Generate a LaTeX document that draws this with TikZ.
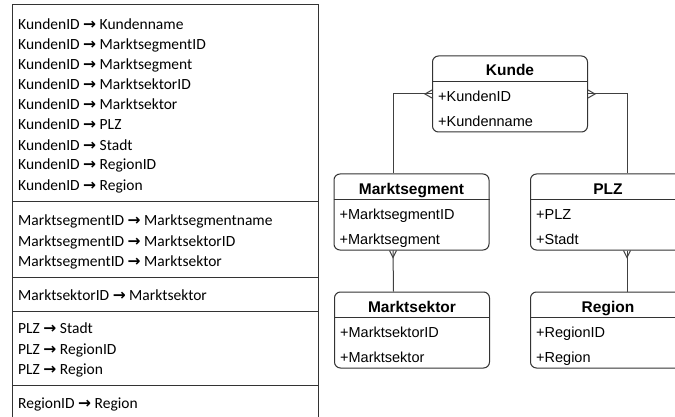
\documentclass[tikz,border=0pt]{standalone}
\usepackage{fontspec}
\setmainfont{Carlito}
\newfontfamily\arialf{Liberation Sans}
\newfontfamily\arrowf{DejaVu Sans}
\newcommand\fdarr{{\arrowf\bfseries →}}
\usetikzlibrary{calc}
\begin{document}
\begin{tikzpicture}[x=1pt,y=-1pt,
  tline/.style={draw=black!80, line width=1pt},
  fdtext/.style={anchor=base west, inner sep=0pt, font=\fontsize{15.5}{18}\selectfont},
  entbox/.style={draw=black!80, line width=1pt, rounded corners=6pt, minimum width=155pt, minimum height=76pt, inner sep=0pt},
  enttitle/.style={font=\arialf\bfseries\fontsize{15.5}{18}\selectfont, anchor=base, inner sep=0pt},
  entattr/.style={font=\arialf\fontsize{14.5}{17}\selectfont, anchor=base west, inner sep=0pt},
  conn/.style={draw=black!75, line width=1pt},
]
\path[use as bounding box, fill=white] (0,0) rectangle (675,417);

% ---- left table of functional dependencies ----
\draw[tline] (12,5) -- (318,5) -- (318,430) (12,5) -- (12,430);
\draw[tline] (12,201) -- (318,201);
\draw[tline] (12,277) -- (318,277);
\draw[tline] (12,311) -- (318,311);
\draw[tline] (12,385.5) -- (318,385.5);

\node[fdtext] (f1) at (18,30) {KundenID \fdarr{} Kundenname};
\node[fdtext] (f2) at (18,50) {KundenID \fdarr{} MarktsegmentID};
\node[fdtext] (f3) at (18,70) {KundenID \fdarr{} Marktsegment};
\node[fdtext] (f4) at (18,90) {KundenID \fdarr{} MarktsektorID};
\node[fdtext] (f5) at (18,110) {KundenID \fdarr{} Marktsektor};
\node[fdtext] (f6) at (18,130) {KundenID \fdarr{} PLZ};
\node[fdtext] (f7) at (18,150) {KundenID \fdarr{} Stadt};
\node[fdtext] (f8) at (18,170) {KundenID \fdarr{} RegionID};
\node[fdtext] (f9) at (18,190) {KundenID \fdarr{} Region};

\node[fdtext] (g1) at (18,225.5) {MarktsegmentID \fdarr{} Marktsegmentname};
\node[fdtext] (g2) at (18,246) {MarktsegmentID \fdarr{} MarktsektorID};
\node[fdtext] (g3) at (18,266) {MarktsegmentID \fdarr{} Marktsektor};

\node[fdtext] (h1) at (18,300) {MarktsektorID \fdarr{} Marktsektor};

\node[fdtext] (i1) at (18,333.5) {PLZ \fdarr{} Stadt};
\node[fdtext] (i2) at (18,354) {PLZ \fdarr{} RegionID};
\node[fdtext] (i3) at (18,374.5) {PLZ \fdarr{} Region};

\node[fdtext] (j1) at (18,408) {RegionID \fdarr{} Region};

% ---- entities ----
\node[entbox] (kunde) at (510,94) {};
\node[entbox] (mseg) at (411.5,212) {};
\node[entbox] (plz) at (608,212) {};
\node[entbox] (msek) at (412,330) {};
\node[entbox] (region) at (608,330) {};

\foreach \e/\t/\a/\b in {kunde/Kunde/+KundenID/+Kundenname,
  mseg/Marktsegment/+MarktsegmentID/+Marktsegment,
  plz/PLZ/+PLZ/+Stadt,
  msek/Marktsektor/+MarktsektorID/+Marktsektor,
  region/Region/+RegionID/+Region}{
  \node[enttitle] (\e-t) at ([yshift=-20.5pt]\e.north) {\t};
  \draw[tline] ([yshift=-26pt]\e.north west) -- ([yshift=-26pt]\e.north east);
  \node[entattr] (\e-a1) at ([xshift=6pt,yshift=-46.2pt]\e.north west) {\a};
  \node[entattr] (\e-a2) at ([xshift=6pt,yshift=-71.2pt]\e.north west) {\b};
}

% ---- connectors ----
\draw[conn] (kunde.west) -| ([xshift=-18.5pt]mseg.north);
\draw[conn] (kunde.east) -| ([xshift=19pt]plz.north);
\draw[conn] ([xshift=-18.5pt]mseg.south) -- ([xshift=-18.5pt]msek.north);
\draw[conn] ([xshift=19pt]plz.south) -- ([xshift=19pt]region.north);

% crow's feet
\draw[conn] ([yshift=4pt]kunde.west) -- ([xshift=-7pt]kunde.west) -- ([yshift=-4pt]kunde.west);
\draw[conn] ([yshift=4pt]kunde.east) -- ([xshift=7pt]kunde.east) -- ([yshift=-4pt]kunde.east);
\draw[conn] ([xshift=-22pt]mseg.south) -- ([xshift=-18.5pt,yshift=-7pt]mseg.south) -- ([xshift=-15pt]mseg.south);
\draw[conn] ([xshift=15.5pt]plz.south) -- ([xshift=19pt,yshift=-7pt]plz.south) -- ([xshift=22.5pt]plz.south);
\end{tikzpicture}
\end{document}
